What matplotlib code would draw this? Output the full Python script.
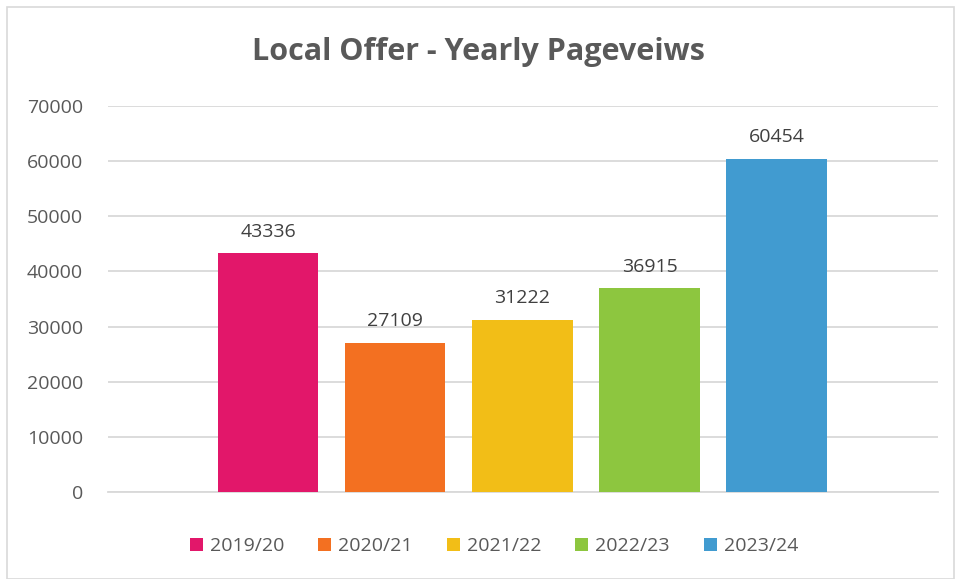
import matplotlib.pyplot as plt
from matplotlib.patches import Rectangle

years = ["2019/20", "2020/21", "2021/22", "2022/23", "2023/24"]
pageviews = [43336, 27109, 31222, 36915, 60454]
colors = ["#E2176A", "#F37021", "#F2BE17", "#8DC63F", "#419BD0"]

plt.rcParams["font.family"] = ["Open Sans", "DejaVu Sans"]
grey = "#595959"

fig = plt.figure(figsize=(9.57, 5.79), dpi=100)
ax = fig.add_axes([108 / 957, 1 - 492 / 579, 830 / 957, 386 / 579])

x = range(len(years))
bars = ax.bar(x, pageviews, width=0.79, color=colors, zorder=3)

# value labels above each bar
for xi, v in zip(x, pageviews):
    ax.annotate(f"{v}", (xi, v), xytext=(0, 9), textcoords="offset points",
                ha="center", va="bottom", fontsize=14, color="#404040")

ax.set_ylim(0, 70000)
ax.set_xlim(-1.26, 5.27)
ax.set_yticks(range(0, 70001, 10000))
ax.yaxis.grid(True, color="#d9d9d9", linewidth=1.3, zorder=0)
ax.tick_params(axis="y", length=0, labelsize=14, labelcolor=grey, pad=18)
ax.set_xticks([])
for s in ["top", "right", "left"]:
    ax.spines[s].set_visible(False)
ax.spines["bottom"].set_color("#d9d9d9")
ax.spines["bottom"].set_linewidth(1.3)

fig.text(0.5, 1 - 52 / 579, "Local Offer - Yearly Pageveiws", ha="center", va="center",
         fontsize=22, fontweight="bold", color=grey)

fig.legend(handles=list(bars), labels=years, loc="center", bbox_to_anchor=(494 / 957, 1 - 546 / 579),
           ncol=5, frameon=False, fontsize=14, labelcolor=grey, handlelength=0.67,
           handleheight=0.67, handletextpad=0.36, columnspacing=1.75)

# light chart-area border
fig.patches.append(Rectangle((6.5 / 957, 0.0), 947 / 957, 1 - 7 / 579, transform=fig.transFigure,
                             fill=False, edgecolor="#d9d9d9", linewidth=1.2))

fig.savefig("out.png", dpi=100)
